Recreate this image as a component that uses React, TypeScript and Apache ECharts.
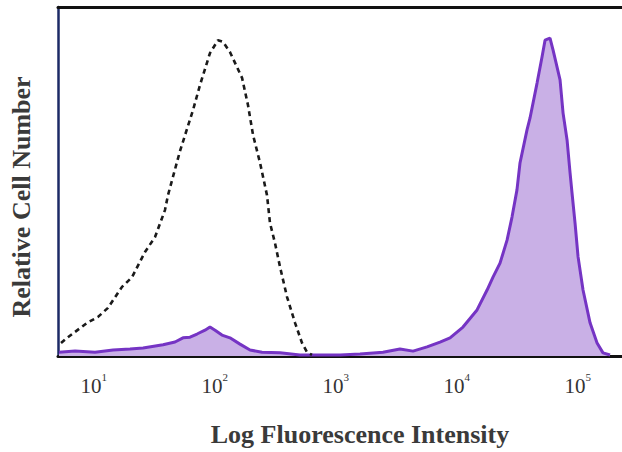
import { useEffect, useRef } from "react";
import * as echarts from "echarts";

// x values are log10(fluorescence intensity); y values are relative cell number (0-100)
const decadeExponents = [1, 2, 3, 4, 5];

const controlLog = [
  0.729, 0.78, 0.845, 0.944, 1.035, 1.117, 1.233, 1.316, 1.423, 1.506, 1.588, 1.613, 1.712, 1.82,
  1.878, 1.96, 2.026, 2.068, 2.125, 2.225, 2.274, 2.316, 2.374, 2.431, 2.456, 2.497, 2.539, 2.597,
  2.663, 2.721, 2.762, 2.803,
];
const controlCount = [
  3.7, 5.2, 6.9, 9.5, 11.2, 13.8, 19.8, 22.6, 29.8, 34.1, 41.8, 46.1, 58.7, 70.5, 77.7, 86.8, 90.5,
  90.0, 87.1, 79.7, 71.9, 63.3, 55.3, 46.1, 38.1, 32.4, 25.5, 16.9, 9.5, 3.7, 1.1, 0.3,
];

const stainedLog = [
  0.712, 0.845, 1.01, 1.159, 1.299, 1.407, 1.572, 1.671, 1.737, 1.795, 1.853, 1.919, 1.96, 2.002,
  2.059, 2.125, 2.208, 2.291, 2.39, 2.539, 2.704, 3.035, 3.2, 3.39, 3.53, 3.638, 3.754, 3.861, 3.944,
  4.051, 4.167, 4.25, 4.299, 4.357, 4.415, 4.456, 4.497, 4.522, 4.58, 4.605, 4.663, 4.704, 4.729,
  4.77, 4.795, 4.853, 4.878, 4.911, 4.936, 4.952, 4.977, 5.002, 5.043, 5.101, 5.159, 5.208, 5.266,
];
const stainedCount = [
  1.1, 1.4, 1.1, 1.7, 2.0, 2.3, 3.2, 4.0, 5.2, 5.4, 6.3, 7.4, 8.3, 7.4, 6.0, 5.2, 3.4, 1.7, 1.1, 0.9,
  0.3, 0.3, 0.6, 1.1, 2.0, 1.4, 2.6, 4.0, 5.2, 8.3, 13.2, 18.9, 22.6, 26.6, 33.2, 39.8, 47.6, 55.3,
  64.8, 68.2, 78.2, 85.7, 90.5, 91.1, 87.7, 79.1, 69.6, 61.9, 52.4, 46.7, 38.1, 28.4, 18.9, 9.5, 3.7,
  0.9, 0.3,
];

const xTitle = "Log Fluorescence Intensity";
const yTitle = "Relative Cell Number";

export default function App() {
  const ref = useRef<HTMLDivElement>(null);

  useEffect(() => {
    document.body.style.margin = "0";
    const chart = echarts.init(ref.current!, null, { renderer: "svg" });
    const xMin = 0.704;
    const xMax = 5.365;
    const font = "'Liberation Serif', 'Times New Roman', serif";
    chart.setOption({
      animation: false,
      backgroundColor: "#ffffff",
      grid: { left: 58, right: 0, top: 7, bottom: 96 },
      xAxis: [
        {
          type: "value",
          min: xMin,
          max: xMax,
          position: "bottom",
          axisLine: { show: true, onZero: false, lineStyle: { color: "#111111", width: 3 } },
          axisTick: { show: false },
          splitLine: { show: false },
          axisLabel: {
            show: true,
            customValues: decadeExponents,
            margin: 15,
            formatter: (v: number) => `{b|10}{s|${v}}`,
            rich: {
              b: {
                fontFamily: font,
                fontSize: 21,
                lineHeight: 21,
                color: "#333333",
                padding: [8, 0, 0, 0],
              },
              s: {
                fontFamily: font,
                fontSize: 11,
                lineHeight: 11,
                color: "#333333",
                verticalAlign: "top",
              },
            },
          },
        },
        {
          type: "value",
          min: xMin,
          max: xMax,
          position: "top",
          axisLine: { show: true, onZero: false, lineStyle: { color: "#111111", width: 3 } },
          axisTick: { show: false },
          axisLabel: { show: false },
          splitLine: { show: false },
        },
      ],
      yAxis: {
        type: "value",
        min: 0,
        max: 100,
        axisLine: { show: true, onZero: false, lineStyle: { color: "#1c2a66", width: 2.5 } },
        axisTick: { show: false },
        axisLabel: { show: false },
        splitLine: { show: false },
      },
      series: [
        {
          type: "line",
          xAxisIndex: 0,
          data: stainedLog.map((x, i) => [x, stainedCount[i]]),
          symbol: "none",
          lineStyle: { color: "#7534c4", width: 3 },
          areaStyle: { color: "#c9b0e6", opacity: 1 },
          z: 2,
        },
        {
          type: "line",
          xAxisIndex: 0,
          data: controlLog.map((x, i) => [x, controlCount[i]]),
          symbol: "none",
          lineStyle: { color: "#1a1a1a", width: 2.6, type: [5, 4] },
          z: 3,
        },
      ],
      graphic: [
        {
          type: "text",
          x: 360,
          y: 434,
          style: {
            text: xTitle,
            fontFamily: font,
            fontWeight: "bold",
            fontSize: 26,
            fill: "#3a3a3a",
            align: "center",
            verticalAlign: "middle",
          },
        },
        {
          type: "text",
          x: 21,
          y: 197,
          rotation: Math.PI / 2,
          style: {
            text: yTitle,
            fontFamily: font,
            fontWeight: "bold",
            fontSize: 26,
            fill: "#3a3a3a",
            align: "center",
            verticalAlign: "middle",
          },
        },
      ],
    });
    return () => chart.dispose();
  }, []);

  return <div ref={ref} style={{ width: 622, height: 452 }} />;
}
